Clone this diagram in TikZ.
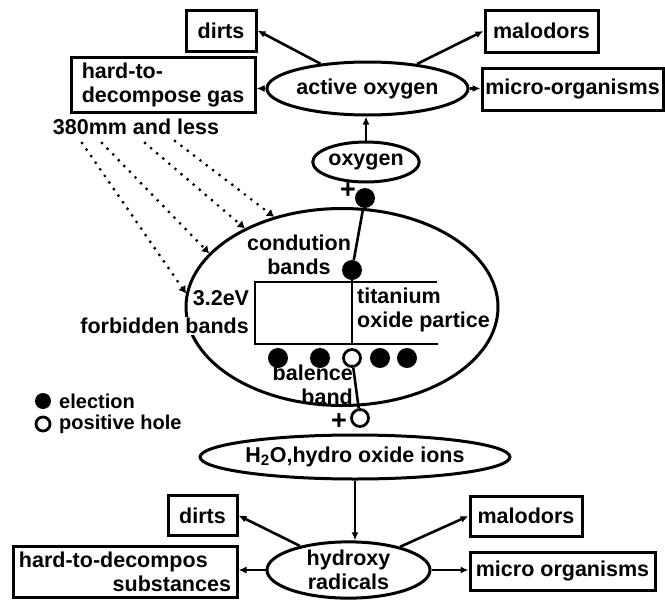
\documentclass[tikz,border=0pt]{standalone}
\usepackage{fontspec}
\setmainfont{Liberation Sans}
\usetikzlibrary{arrows.meta, shapes.geometric}

\begin{document}
\begin{tikzpicture}[
    x=1pt, y=-1pt,
    every node/.style={font=\fontsize{21.5}{24}\selectfont\bfseries, inner sep=0pt},
    box/.style={rectangle, draw, line width=3pt, align=center},
    blob/.style={ellipse, draw, line width=3pt, align=center},
    elec/.style={circle, fill=black, minimum size=20pt},
    hole/.style={circle, draw, fill=white, line width=2.8pt, minimum size=17pt},
    plus/.style={font=\fontsize{27}{27}\selectfont\bfseries},
    legtext/.style={anchor=west, font=\fontsize{20}{22}\selectfont\bfseries},
    line/.style={draw, line width=2.6pt, -{Latex[length=8pt, width=7pt]}},
    ray/.style={line width=3.2pt, line cap=round, dash pattern=on 0pt off 8pt, -{Latex[length=7pt, width=9pt]}}
]
    \useasboundingbox (0,0) rectangle (665,600);

    % active oxygen and what it attacks
    \node [blob, minimum width=165pt, minimum height=53pt] (act) at (367.5,88.5) {active oxygen};
    \node [box, minimum width=70pt, minimum height=41pt] (dirts1) at (221,30.5) {dirts};
    \node [box, minimum width=113pt, minimum height=42pt] (malo1) at (541.5,31) {malodors};
    \node [box, minimum width=184pt, minimum height=55pt, align=left] (gas) at (163,84.5) {hard-to-\\decompose gas};
    \node [box, minimum width=181pt, minimum height=42pt] (micro1) at (572.5,89) {micro-organisms};
    \node [blob, minimum width=98pt, minimum height=40pt] (oxy) at (366,162) {oxygen};

    \draw [line] (act) -- (dirts1.east);
    \draw [line] (act) -- (malo1.west);
    \draw [line] (act.west) -- (act.west -| gas.east);
    \draw [line] (act.east) -- (act.east -| micro1.west);
    \draw [line] (oxy.north) -- (oxy.north |- act.south);

    % light
    \node (uv) at (136,127) {380mm and less};
    \coordinate (r1) at (82,143);
    \coordinate (r2) at (102,143);
    \coordinate (r3) at (145,143);
    \coordinate (r4) at (175,141);

    % titanium oxide particle
    \node [ellipse, draw, line width=3pt, minimum width=312pt, minimum height=197pt] (tio) at (342,307) {};
    \draw [ray] (r1) -- (tio.175);
    \draw [ray] (r2) -- (tio.158);
    \draw [ray] (r3) -- (tio.141);
    \draw [ray] (r4) -- (tio.127);

    \coordinate (cbL) at (255,282);
    \coordinate (cbR) at (437,282);
    \coordinate (vbL) at (255,344);
    \coordinate (vbR) at (438,344);
    \draw [line width=2.6pt] (cbR) -- (cbL) -- (vbL) -- (vbR);

    \node [elec] (e1) at (365,198) {};
    \node [plus] (plus1) at (348,191) {+};
    \node [elec] (e2) at (352,270) {};
    \draw [line width=2.6pt] (e1) -- (e2);
    \draw [line width=2.6pt] (e2) -- (e2 |- vbL);

    \node [elec] (v1) at (278,358) {};
    \node [elec] (v2) at (320,358) {};
    \node [hole] (h1) at (352,358) {};
    \node [elec] (v3) at (380,358) {};
    \node [elec] (v4) at (407,358) {};
    \node [hole] (h2) at (360,418) {};
    \node [plus] (plus2) at (339,422) {+};
    \draw [line width=2.6pt] (h1) -- (h2);

    \node (cond) at (299,255) [align=center] {condution\\bands};
    \node (gap) at (221,298) {3.2eV};
    \node (forb) [anchor=east, fill=white, inner sep=1pt] at (250,326) {forbidden bands};
    \node (part) [anchor=west, align=left] at (357,310) {titanium\\oxide partice};
    \node (val) [anchor=east, align=right] at (353,385) {balence\\band};

    % legend
    \node [elec, minimum size=16pt] (ldot) at (43,401) {};
    \node [legtext] (ltxt1) at (59,401) {election};
    \node [hole, minimum size=14pt] (lhole) at (43,424) {};
    \node [legtext] (ltxt2) at (59,424) {positive hole};

    % hydroxy radicals and what they attack
    \node [blob, minimum width=234pt, minimum height=44pt] (water) at (355,457) {H\textsubscript{2}O,hydro oxide ions};
    \node [blob, minimum width=163pt, minimum height=56pt] (hyd) at (348.5,570) {hydroxy\\radicals};
    \node [box, minimum width=69pt, minimum height=40pt] (dirts2) at (202.5,515.5) {dirts};
    \node [box, minimum width=112pt, minimum height=40pt] (malo2) at (526,516) {malodors};
    \node [box, minimum width=224pt, minimum height=51pt, text width=212pt, align=left] (subs) at (125,572) {hard-to-decompos\\\hspace*{\fill}substances};
    \node [box, minimum width=185pt, minimum height=38pt] (micro2) at (562.5,571) {micro organisms};

    \draw [line] (water.south) -- (water.south |- hyd.north);
    \draw [line] (hyd) -- (dirts2.east);
    \draw [line] (hyd) -- (malo2.west);
    \draw [line] (hyd.west) -- (hyd.west -| subs.east);
    \draw [line] (hyd.east) -- (hyd.east -| micro2.west);

\end{tikzpicture}
\end{document}
